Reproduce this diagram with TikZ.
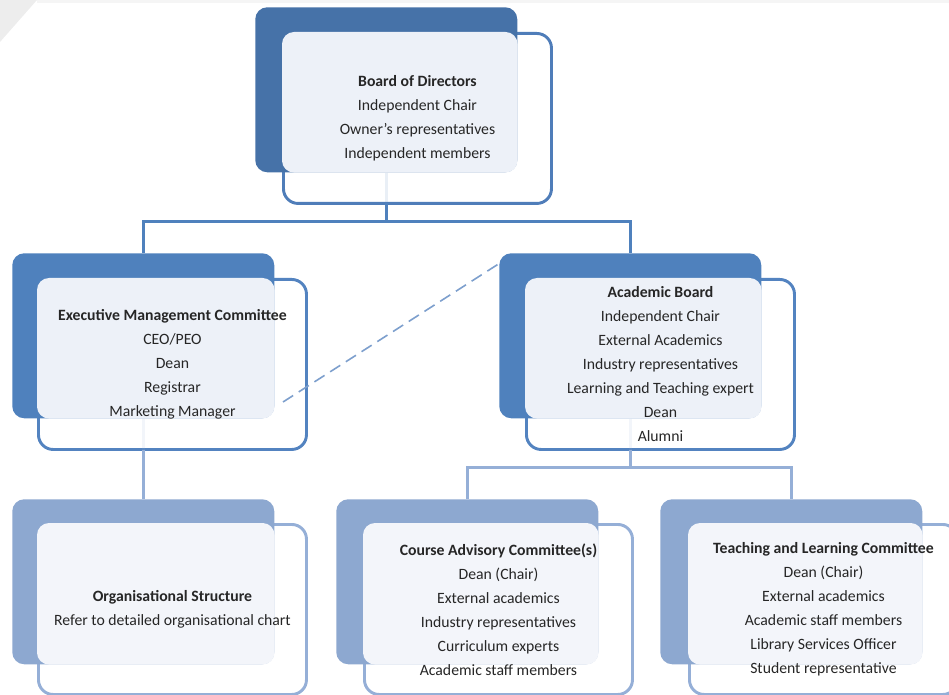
\documentclass[tikz,border=0pt]{standalone}
\usepackage{fontspec}
\setmainfont{Carlito}
\definecolor{topfill}{HTML}{4672A8}
\definecolor{topline}{HTML}{4F7DB9}
\definecolor{midfill}{HTML}{4F81BD}
\definecolor{midline}{HTML}{5383C0}
\definecolor{lowfill}{HTML}{8DA8D0}
\definecolor{lowline}{HTML}{95AFD7}
\definecolor{midlight}{HTML}{EDF1F8}
\definecolor{lowlight}{HTML}{F3F5FA}
\definecolor{dashblue}{HTML}{7D9FCD}
\begin{document}
\begin{tikzpicture}[x=0.75pt,y=-0.75pt,
    backbox/.style={fill=#1,rounded corners=9pt,minimum width=196.5pt,minimum height=123.75pt,inner sep=0pt,anchor=north west},
    frontbox/.style={draw=#1,fill=white,line width=2.2pt,rounded corners=11pt,minimum width=201pt,minimum height=127.5pt,inner sep=0pt,anchor=north west},
    conn/.style={draw=#1,line width=2.2pt},
    txt/.style={align=center,text=black!85,font=\fontsize{11.8}{18}\selectfont}]
\useasboundingbox (0,0) rectangle (949,695);
\clip (0,0) rectangle (949,695);
% screenshot edge
\fill[black!7] (0,0) -- (37,0) -- (0,42) -- cycle;
\fill[black!4] (37,0) rectangle (949,3);

% board of directors
\node[frontbox=topline] (bdF) at (282,32) {};
\node[backbox=topfill] (bdB) at ([shift={(-27,-25)}]bdF.north west) {};
\fill[midlight,rounded corners=9pt] (bdF.north west) rectangle (bdB.south east);
\node[txt] (bdT) at (bdF.center) {\textbf{Board of Directors}\\Independent Chair\\Owner's representatives\\Independent members};

% executive management committee
\node[frontbox=midline] (exF) at (37,278) {};
\node[backbox=midfill] (exB) at ([shift={(-25,-25)}]exF.north west) {};
\fill[midlight,rounded corners=9pt] (exF.north west) rectangle (exB.south east);
\node[txt] (exT) at (exF.center) {\textbf{Executive Management Committee}\\CEO/PEO\\Dean\\Registrar\\Marketing Manager};

% academic board
\node[frontbox=midline] (acF) at (525,278) {};
\node[backbox=midfill] (acB) at ([shift={(-26,-25)}]acF.north west) {};
\fill[midlight,rounded corners=9pt] (acF.north west) rectangle (acB.south east);
\node[txt] (acT) at (acF.center) {\textbf{Academic Board}\\Independent Chair\\External Academics\\Industry representatives\\Learning and Teaching expert\\Dean\\Alumni};

% organisational structure
\node[frontbox=lowline] (orF) at (37,523) {};
\node[backbox=lowfill] (orB) at ([shift={(-25,-24)}]orF.north west) {};
\fill[lowlight,rounded corners=9pt] (orF.north west) rectangle (orB.south east);
\node[txt] (orT) at (orF.center) {\textbf{Organisational Structure}\\Refer to detailed organisational chart};

% course advisory committee
\node[frontbox=lowline] (cuF) at (363,523) {};
\node[backbox=lowfill] (cuB) at ([shift={(-27,-24)}]cuF.north west) {};
\fill[lowlight,rounded corners=9pt] (cuF.north west) rectangle (cuB.south east);
\node[txt] (cuT) at (cuF.center) {\textbf{Course Advisory Committee(s)}\\Dean (Chair)\\External academics\\Industry representatives\\Curriculum experts\\Academic staff members};

% teaching and learning committee
\node[frontbox=lowline] (tlF) at (688,523) {};
\node[backbox=lowfill] (tlB) at ([shift={(-28,-24)}]tlF.north west) {};
\fill[lowlight,rounded corners=9pt] (tlF.north west) rectangle (tlB.south east);
\node[txt] (tlT) at (tlF.center) {\textbf{Teaching and Learning Committee}\\Dean (Chair)\\External academics\\Academic staff members\\Library Services Officer\\Student representative};

% connectors (faint where they pass behind a front box)
\draw[conn=midfill,draw opacity=0.12] (bdB.south) -- ++(0,30);
\draw[conn=midfill] (bdB.south) ++(0,30) -- ++(0,19) coordinate (bdJ);
\draw[conn=midfill] (bdJ) -| (exB.north);
\draw[conn=midfill] (bdJ) -| (acB.north);
\draw[conn=lowline,draw opacity=0.12] (exB.south) -- ++(0,31);
\draw[conn=lowline] (exB.south) ++(0,31) -- (orB.north);
\draw[conn=lowline,draw opacity=0.12] (acB.south) -- ++(0,31);
\draw[conn=lowline] (acB.south) ++(0,31) -- ++(0,18) coordinate (acJ);
\draw[conn=lowline] (acJ) -| (cuB.north);
\draw[conn=lowline] (acJ) -| (tlB.north);

% dashed link
\coordinate (dashA) at (283,402);
\coordinate (dashB) at (500,263);
\draw[dashblue,line width=1.2pt,dash pattern=on 9pt off 5pt] (dashA) -- (dashB);
\end{tikzpicture}
\end{document}
